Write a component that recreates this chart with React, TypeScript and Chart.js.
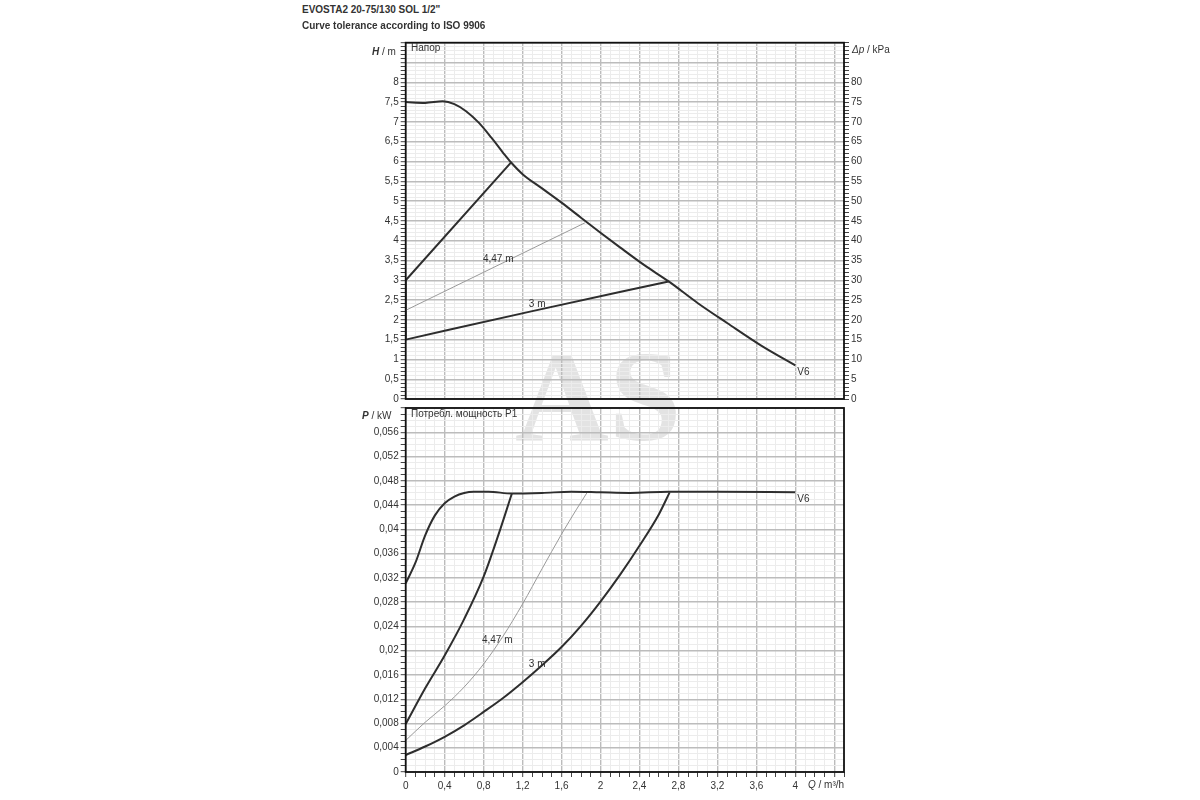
import { useEffect, useRef } from "react"
import { Chart, registerables } from "chart.js"

Chart.register(...registerables)

// Q / m³/h
const flowMax = 4.5
const flowLabelMax = 4

// Напор, H / m
const v6HeadQ = [0, 0.2, 0.38, 0.5, 0.62, 0.75, 0.88, 1.0, 1.08, 1.2, 1.4, 1.6, 1.8, 2.0, 2.2, 2.45, 2.7, 3.0, 3.3, 3.65, 4.0]
const v6Head = [7.5, 7.48, 7.52, 7.45, 7.27, 6.98, 6.6, 6.22, 5.98, 5.68, 5.32, 4.96, 4.58, 4.2, 3.83, 3.38, 2.97, 2.42, 1.92, 1.35, 0.85]
const ppHighQ = [0, 0, 1.08]
const ppHighHead = [1.5, 3.0, 5.97]
const cp447Q = [0, 1.84]
const cp447Head = [2.24, 4.45]
const pp3Q = [0, 1.3, 2.7]
const pp3Head = [1.5, 2.22, 2.97]

// Потребл. мощность P1, P / kW
const v6PowerQ = [0, 0.1, 0.2, 0.3, 0.4, 0.5, 0.6, 0.7, 0.85, 1.09, 1.4, 1.7, 2.0, 2.3, 2.7, 3.2, 4.0]
const v6Power = [0.0311, 0.0345, 0.039, 0.0423, 0.0443, 0.0454, 0.046, 0.0462, 0.0462, 0.0459, 0.046, 0.0462, 0.0461, 0.046, 0.0462, 0.0462, 0.0461]
const ppHighPowerQ = [0, 0.2, 0.4, 0.6, 0.8, 0.95, 1.09]
const ppHighPower = [0.0079, 0.0138, 0.0192, 0.0252, 0.0322, 0.039, 0.0459]
const cp447PowerQ = [0, 0.2, 0.4, 0.6, 0.8, 1.0, 1.2, 1.4, 1.6, 1.75, 1.86]
const cp447Power = [0.0052, 0.0082, 0.0109, 0.014, 0.0178, 0.0224, 0.0277, 0.0335, 0.0392, 0.0432, 0.046]
const pp3PowerQ = [0, 0.2, 0.4, 0.6, 0.8, 1.0, 1.2, 1.4, 1.6, 1.8, 2.0, 2.2, 2.4, 2.6, 2.71]
const pp3Power = [0.0028, 0.0042, 0.0058, 0.0077, 0.0099, 0.0122, 0.0148, 0.0176, 0.0206, 0.0241, 0.0281, 0.0325, 0.0373, 0.0425, 0.0461]

// axis ranges
const headMax = 9
const headLabelMax = 8
const dpMax = 90
const dpLabelMax = 80
const powerMax = 0.06
const powerLabelMax = 0.056

const ink = "#333"
const thick = "#2e2e2e"
const thin = "#9a9a9a"
const majorGrid = "#bcbcbc"
const minorGrid = "#ececec"
const fontFamily = "'Liberation Sans', Arial, sans-serif"

Chart.defaults.font.family = fontFamily
Chart.defaults.font.size = 10
Chart.defaults.color = ink

const pts = (q: number[], v: number[]) => q.map((x, i) => ({ x, y: v[i] }))
const comma = (v: number, digits: number) => String(Number(v.toFixed(digits))).replace(".", ",")

const headNotes = [
  { text: "4,47 m", q: 0.95, v: 3.53, align: "center" },
  { text: "3 m", q: 1.35, v: 2.4, align: "center" },
  { text: "V6", q: 4.02, v: 0.67, align: "left" },
]
const powerNotes = [
  { text: "4,47 m", q: 0.94, v: 0.0217, align: "center" },
  { text: "3 m", q: 1.35, v: 0.0177, align: "center" },
  { text: "V6", q: 4.02, v: 0.0449, align: "left" },
]

const notesPlugin = {
  id: "notes",
  afterDatasetsDraw(chart: any, _args: any, opts: any) {
    const { ctx, scales } = chart
    ctx.save()
    ctx.font = `10px ${fontFamily}`
    ctx.fillStyle = ink
    ctx.textBaseline = "middle"
    for (const n of opts.items || []) {
      ctx.textAlign = n.align
      ctx.fillText(n.text, scales.x.getPixelForValue(n.q), scales.y.getPixelForValue(n.v))
    }
    ctx.restore()
  },
  afterDraw(chart: any) {
    const { ctx, chartArea: a } = chart
    ctx.save()
    ctx.strokeStyle = "#111"
    ctx.lineWidth = 1.8
    ctx.strokeRect(a.left, a.top, a.right - a.left, a.bottom - a.top)
    ctx.restore()
  },
}

const tickValue = (c: any) => (c.tick ? c.tick.value : 0)
const flowMajor = (v: number) => Math.round(v * 10) % 4 === 0

function flowScale(showLabels: boolean) {
  return {
    type: "linear",
    min: 0,
    max: flowMax,
    ticks: {
      display: showLabels,
      stepSize: 0.1,
      autoSkip: false,
      maxRotation: 0,
      padding: 3,
      callback: (v: number) => (flowMajor(v) && v <= flowLabelMax + 1e-9 ? comma(v, 1) : ""),
    },
    grid: {
      color: (c: any) => (flowMajor(tickValue(c)) ? majorGrid : minorGrid),
      lineWidth: (c: any) => (flowMajor(tickValue(c)) ? 1.4 : 1),
      drawTicks: showLabels,
      tickLength: 5,
      tickColor: "#444",
      tickWidth: 1,
    },
    border: { display: false },
    afterFit: (s: any) => {
      s.height = showLabels ? 28 : 0
    },
  }
}

function curve(data: { x: number; y: number }[], color: string, width: number, smooth: boolean) {
  return {
    data,
    borderColor: color,
    borderWidth: width,
    pointRadius: 0,
    fill: false,
    tension: smooth ? 0.4 : 0,
    cubicInterpolationMode: smooth ? "monotone" : "default",
  }
}

const label = (left: number, top: number, extra: any = {}) => ({
  position: "absolute" as const,
  left,
  top,
  fontFamily,
  fontSize: 10,
  lineHeight: "12px",
  color: ink,
  whiteSpace: "nowrap" as const,
  ...extra,
})

export default function App() {
  const headRef = useRef<HTMLCanvasElement>(null)
  const powerRef = useRef<HTMLCanvasElement>(null)

  useEffect(() => {
    if (!headRef.current || !powerRef.current) return
    const headMajor = (v: number) => Math.round(v * 10) % 5 === 0
    const powerMajor = (v: number) => Math.round(v * 1000) % 4 === 0

    const headChart = new Chart(headRef.current, {
      type: "line",
      data: {
        datasets: [
          curve(pts(cp447Q, cp447Head), thin, 1, false),
          curve(pts(pp3Q, pp3Head), thick, 2, true),
          curve(pts(ppHighQ, ppHighHead), thick, 2, false),
          curve(pts(v6HeadQ, v6Head), thick, 2, true),
        ] as any,
      },
      options: {
        animation: false,
        responsive: true,
        maintainAspectRatio: false,
        layout: { padding: { top: 12.7, left: 0, right: 0, bottom: 0 } },
        plugins: {
          legend: { display: false },
          tooltip: { enabled: false },
          notes: { items: headNotes },
        } as any,
        scales: {
          x: flowScale(false),
          y: {
            type: "linear",
            position: "left",
            min: 0,
            max: headMax,
            ticks: {
              stepSize: 0.1,
              autoSkip: false,
              padding: 2,
              callback: (v: number) => (headMajor(v) && v <= headLabelMax + 1e-9 ? comma(v, 1) : ""),
            },
            grid: {
              color: (c: any) => (headMajor(tickValue(c)) ? majorGrid : minorGrid),
              lineWidth: (c: any) => (headMajor(tickValue(c)) ? 1.4 : 1),
              tickLength: 5,
              tickColor: "#444",
              tickWidth: 1,
            },
            border: { display: false },
            afterFit: (s: any) => {
              s.width = 105.7
            },
          },
          dp: {
            type: "linear",
            position: "right",
            min: 0,
            max: dpMax,
            ticks: {
              stepSize: 1,
              autoSkip: false,
              padding: 2,
              callback: (v: number) => (Math.round(v) % 5 === 0 && v <= dpLabelMax ? String(Math.round(v)) : ""),
            },
            grid: { drawOnChartArea: false, tickLength: 5, tickColor: "#444", tickWidth: 1 },
            border: { display: false },
            afterFit: (s: any) => {
              s.width = 56
            },
          },
        } as any,
      },
      plugins: [notesPlugin],
    })

    const powerChart = new Chart(powerRef.current, {
      type: "line",
      data: {
        datasets: [
          curve(pts(cp447PowerQ, cp447Power), thin, 1, true),
          curve(pts(pp3PowerQ, pp3Power), thick, 2, true),
          curve(pts(ppHighPowerQ, ppHighPower), thick, 2, true),
          curve(pts(v6PowerQ, v6Power), thick, 2, true),
        ] as any,
      },
      options: {
        animation: false,
        responsive: true,
        maintainAspectRatio: false,
        layout: { padding: { top: 7, left: 0, right: 56, bottom: 0 } },
        plugins: {
          legend: { display: false },
          tooltip: { enabled: false },
          notes: { items: powerNotes },
        } as any,
        scales: {
          x: flowScale(true),
          y: {
            type: "linear",
            position: "left",
            min: 0,
            max: powerMax,
            ticks: {
              stepSize: 0.001,
              autoSkip: false,
              padding: 2,
              callback: (v: number) => (powerMajor(v) && v <= powerLabelMax + 1e-9 ? comma(v, 3) : ""),
            },
            grid: {
              color: (c: any) => (powerMajor(tickValue(c)) ? majorGrid : minorGrid),
              lineWidth: (c: any) => (powerMajor(tickValue(c)) ? 1.4 : 1),
              tickLength: 5,
              tickColor: "#444",
              tickWidth: 1,
            },
            border: { display: false },
            afterFit: (s: any) => {
              s.width = 105.7
            },
          },
        } as any,
      },
      plugins: [notesPlugin],
    })

    return () => {
      headChart.destroy()
      powerChart.destroy()
    }
  }, [])

  return (
    <div style={{ position: "absolute", left: 0, top: 0, width: 1200, height: 800, background: "#fff", overflow: "hidden" }}>
      <div
        style={{
          position: "absolute",
          left: 515,
          top: 331,
          fontFamily: "'Liberation Serif', 'DejaVu Serif', serif",
          fontWeight: "bold",
          fontSize: 130,
          lineHeight: 1,
          color: "#e3e3e3",
        }}
      >
        AS
      </div>
      <div style={{ position: "absolute", left: 300, top: 30, width: 600, height: 377 }}>
        <canvas ref={headRef} />
      </div>
      <div style={{ position: "absolute", left: 300, top: 400, width: 600, height: 400 }}>
        <canvas ref={powerRef} />
      </div>

      <div style={label(302, 4, { fontWeight: "bold" })}>EVOSTA2 20-75/130 SOL 1/2"</div>
      <div style={label(302, 20, { fontWeight: "bold" })}>Curve tolerance according to ISO 9906</div>

      <div style={label(372, 46)}>
        <b><i>H</i></b> / m
      </div>
      <div style={label(411, 42)}>Напор</div>
      <div style={label(852, 44)}>
        <i>Δp</i> / kPa
      </div>
      <div style={label(362, 410)}>
        <b><i>P</i></b> / kW
      </div>
      <div style={label(411, 408)}>Потребл. мощность P1</div>
      <div style={label(808, 779)}>
        <i>Q</i> / m³/h
      </div>
    </div>
  )
}
